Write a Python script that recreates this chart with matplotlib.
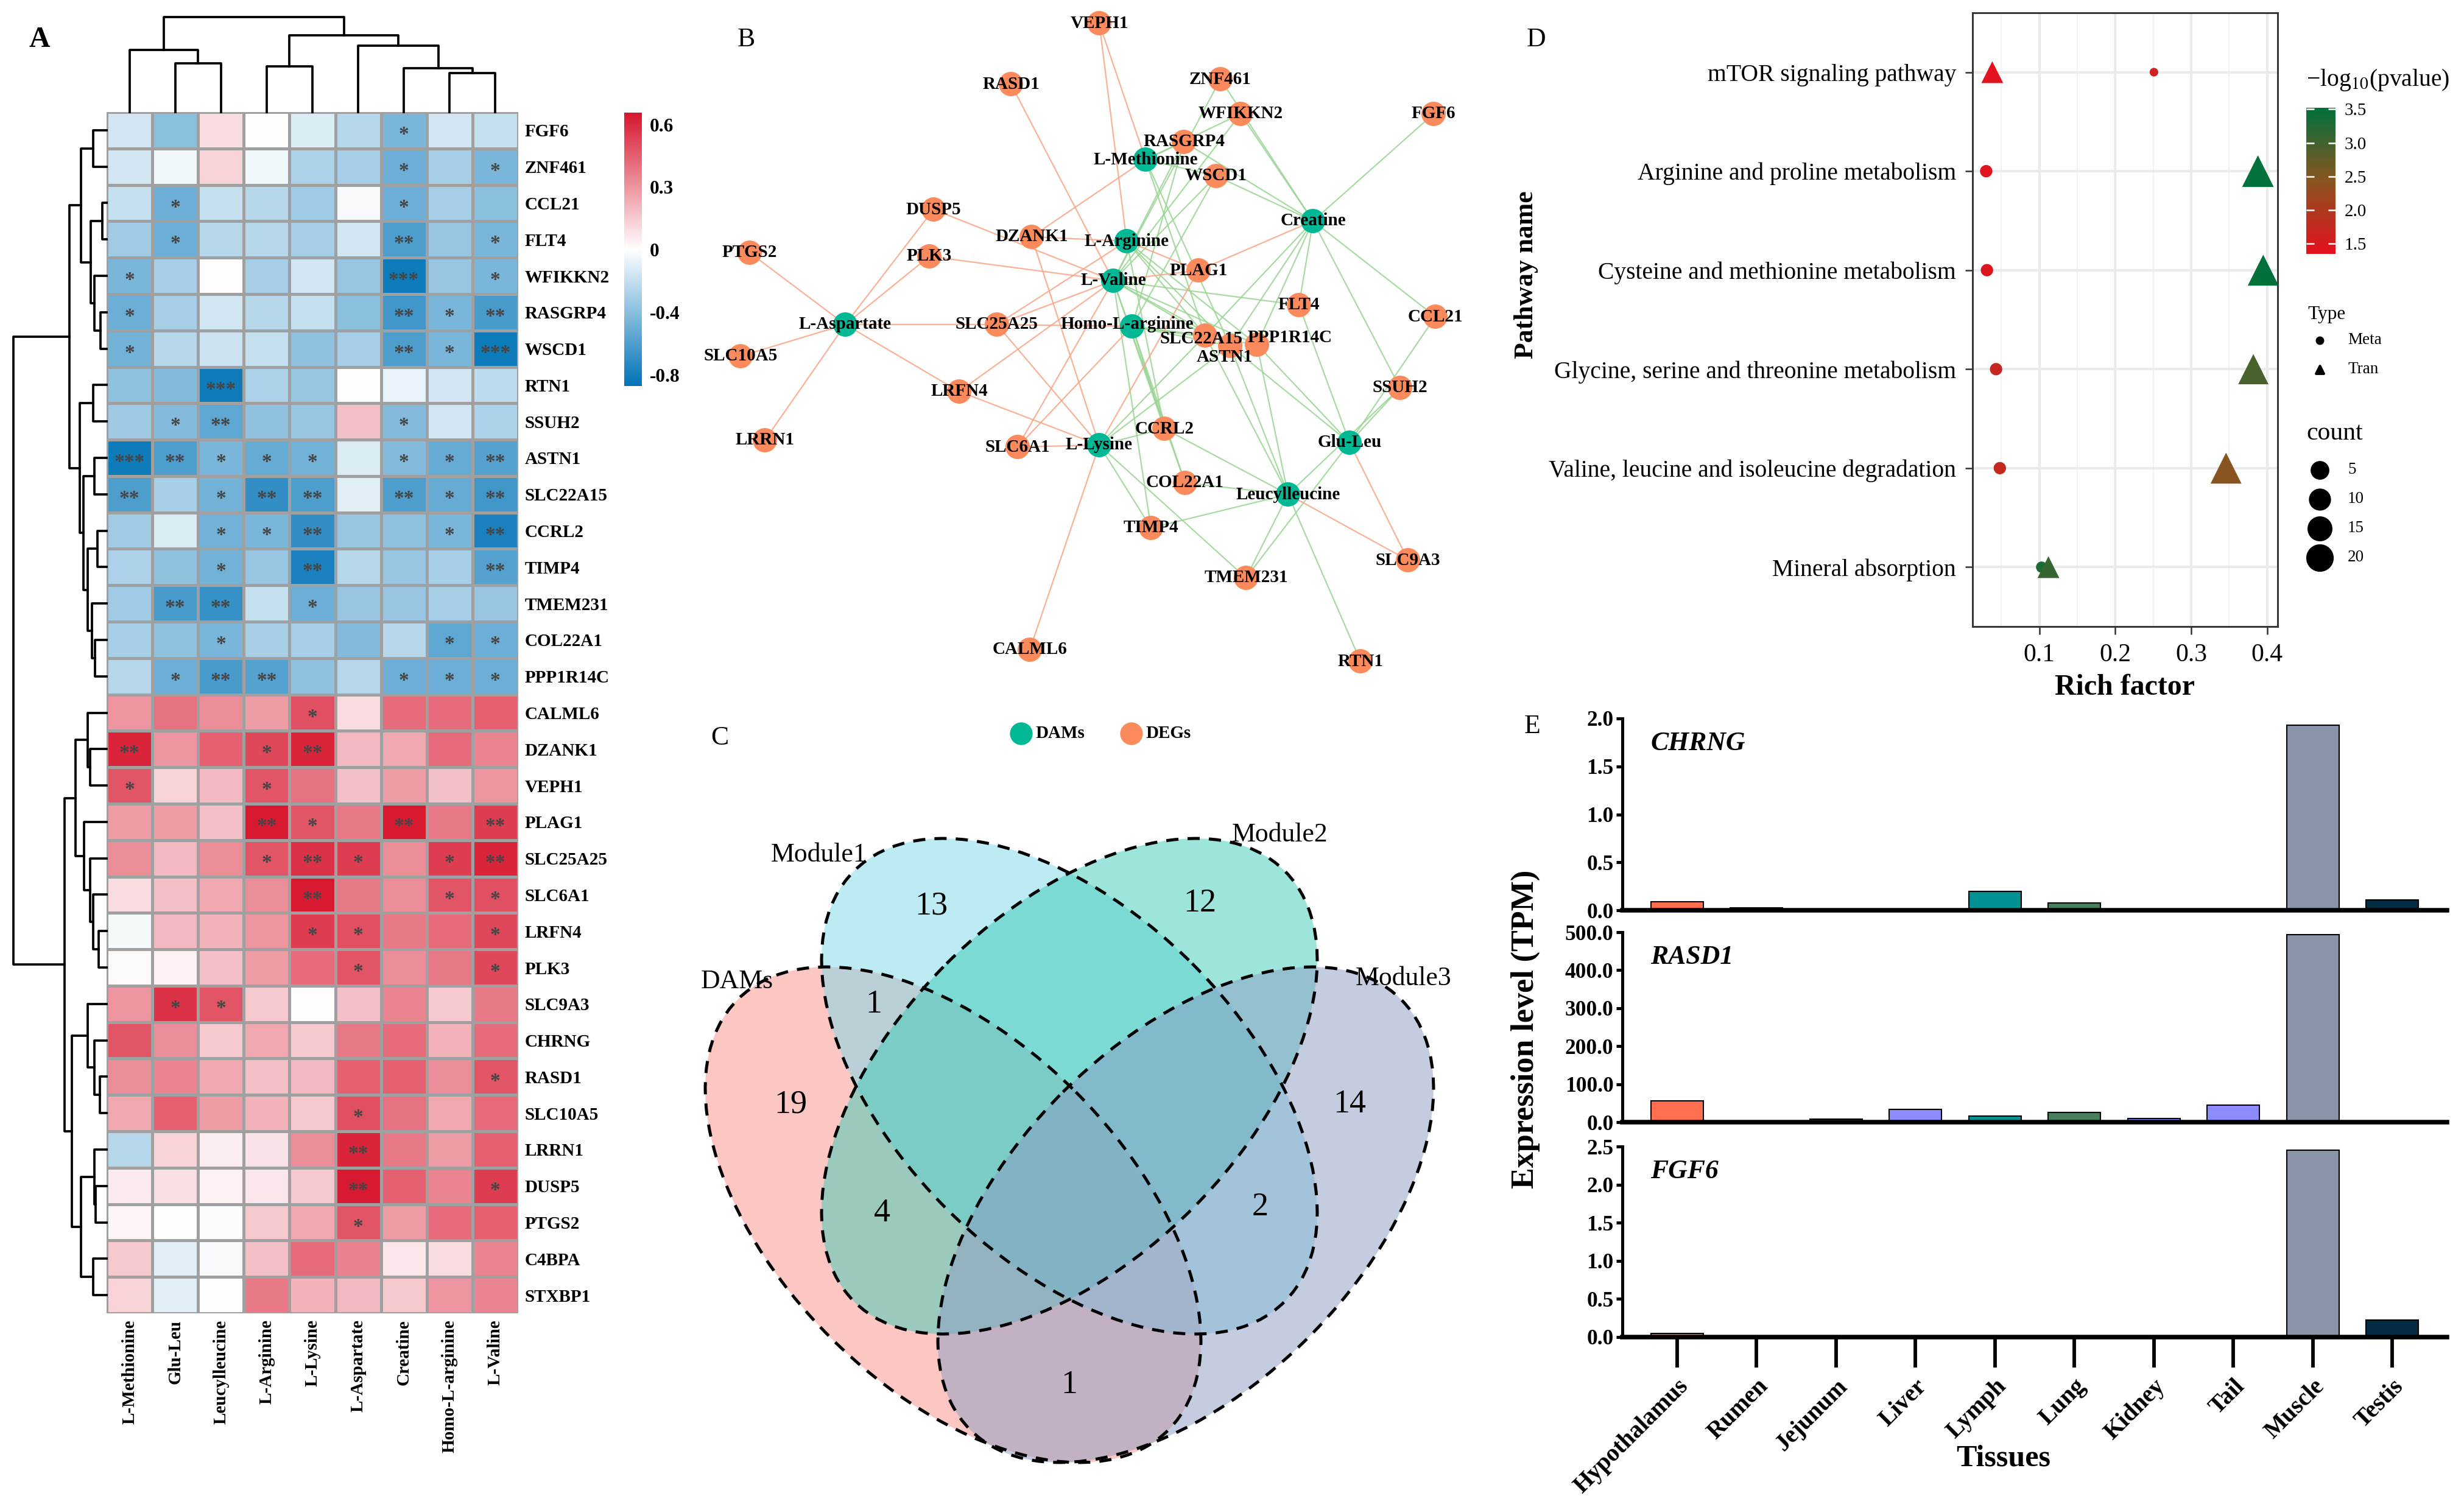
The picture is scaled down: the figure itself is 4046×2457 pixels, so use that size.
import numpy as np
import matplotlib as mpl
import matplotlib.pyplot as plt
from matplotlib.colors import LinearSegmentedColormap, TwoSlopeNorm, Normalize
from matplotlib.patches import Ellipse
from matplotlib.cm import ScalarMappable

W, H = 4046, 2457
DPI = 300
plt.rcParams['font.family'] = ['Liberation Serif', 'DejaVu Serif']
plt.rcParams['mathtext.fontset'] = 'stix'

# ---------------- data: panel A (correlation heatmap) ----------------
genes = ['FGF6', 'ZNF461', 'CCL21', 'FLT4', 'WFIKKN2', 'RASGRP4', 'WSCD1', 'RTN1', 'SSUH2',
         'ASTN1', 'SLC22A15', 'CCRL2', 'TIMP4', 'TMEM231', 'COL22A1', 'PPP1R14C', 'CALML6',
         'DZANK1', 'VEPH1', 'PLAG1', 'SLC25A25', 'SLC6A1', 'LRFN4', 'PLK3', 'SLC9A3', 'CHRNG',
         'RASD1', 'SLC10A5', 'LRRN1', 'DUSP5', 'PTGS2', 'C4BPA', 'STXBP1']
metabolites = ['L-Methionine', 'Glu-Leu', 'Leucylleucine', 'L-Arginine', 'L-Lysine',
               'L-Aspartate', 'Creatine', 'Homo-L-arginine', 'L-Valine']
corr = np.array([
    [-0.15, -0.40, 0.10, 0.00, -0.12, -0.25, -0.45, -0.15, -0.20],
    [-0.15, -0.05, 0.12, -0.05, -0.28, -0.30, -0.50, -0.30, -0.45],
    [-0.20, -0.50, -0.20, -0.25, -0.32, -0.03, -0.50, -0.30, -0.40],
    [-0.32, -0.50, -0.25, -0.25, -0.30, -0.15, -0.60, -0.35, -0.45],
    [-0.45, -0.30, 0.01, -0.30, -0.15, -0.35, -0.82, -0.35, -0.45],
    [-0.50, -0.30, -0.15, -0.25, -0.20, -0.40, -0.65, -0.45, -0.62],
    [-0.48, -0.25, -0.18, -0.20, -0.38, -0.30, -0.60, -0.45, -0.82],
    [-0.38, -0.42, -0.82, -0.28, -0.35, 0.00, -0.08, -0.15, -0.22],
    [-0.33, -0.42, -0.55, -0.38, -0.35, 0.18, -0.42, -0.15, -0.28],
    [-0.82, -0.60, -0.45, -0.52, -0.48, -0.12, -0.42, -0.52, -0.58],
    [-0.60, -0.30, -0.48, -0.70, -0.60, -0.10, -0.60, -0.52, -0.65],
    [-0.32, -0.12, -0.48, -0.45, -0.70, -0.35, -0.38, -0.45, -0.78],
    [-0.28, -0.38, -0.48, -0.35, -0.78, -0.25, -0.35, -0.30, -0.58],
    [-0.32, -0.62, -0.68, -0.20, -0.50, -0.35, -0.35, -0.30, -0.35],
    [-0.30, -0.38, -0.45, -0.30, -0.30, -0.42, -0.25, -0.55, -0.50],
    [-0.25, -0.50, -0.62, -0.58, -0.38, -0.25, -0.50, -0.50, -0.50],
    [0.30, 0.40, 0.32, 0.28, 0.50, 0.10, 0.42, 0.42, 0.45],
    [0.62, 0.30, 0.45, 0.52, 0.62, 0.20, 0.25, 0.42, 0.35],
    [0.48, 0.12, 0.20, 0.48, 0.40, 0.18, 0.28, 0.18, 0.30],
    [0.28, 0.28, 0.18, 0.65, 0.48, 0.38, 0.65, 0.38, 0.55],
    [0.32, 0.20, 0.32, 0.48, 0.58, 0.55, 0.32, 0.55, 0.62],
    [0.10, 0.18, 0.25, 0.32, 0.65, 0.38, 0.32, 0.48, 0.50],
    [-0.04, 0.20, 0.22, 0.30, 0.55, 0.50, 0.38, 0.42, 0.52],
    [0.02, 0.04, 0.18, 0.28, 0.42, 0.48, 0.32, 0.38, 0.52],
    [0.30, 0.58, 0.48, 0.15, 0.01, 0.18, 0.35, 0.15, 0.38],
    [0.48, 0.32, 0.15, 0.25, 0.15, 0.38, 0.42, 0.22, 0.42],
    [0.32, 0.35, 0.25, 0.18, 0.20, 0.45, 0.45, 0.32, 0.48],
    [0.25, 0.45, 0.28, 0.22, 0.15, 0.50, 0.40, 0.25, 0.42],
    [-0.25, 0.12, 0.05, 0.08, 0.32, 0.62, 0.38, 0.28, 0.45],
    [0.06, 0.09, 0.04, 0.07, 0.15, 0.65, 0.45, 0.35, 0.55],
    [0.03, 0.00, -0.02, 0.15, 0.25, 0.48, 0.28, 0.42, 0.45],
    [0.15, -0.10, -0.03, 0.18, 0.42, 0.36, 0.07, 0.10, 0.35],
    [0.12, -0.10, 0.00, 0.38, 0.22, 0.20, 0.15, 0.30, 0.35],
])
# significance level: 1 = *, 2 = **, 3 = ***
sig = np.array([
    [0, 0, 0, 0, 0, 0, 1, 0, 0],
    [0, 0, 0, 0, 0, 0, 1, 0, 1],
    [0, 1, 0, 0, 0, 0, 1, 0, 0],
    [0, 1, 0, 0, 0, 0, 2, 0, 1],
    [1, 0, 0, 0, 0, 0, 3, 0, 1],
    [1, 0, 0, 0, 0, 0, 2, 1, 2],
    [1, 0, 0, 0, 0, 0, 2, 1, 3],
    [0, 0, 3, 0, 0, 0, 0, 0, 0],
    [0, 1, 2, 0, 0, 0, 1, 0, 0],
    [3, 2, 1, 1, 1, 0, 1, 1, 2],
    [2, 0, 1, 2, 2, 0, 2, 1, 2],
    [0, 0, 1, 1, 2, 0, 0, 1, 2],
    [0, 0, 1, 0, 2, 0, 0, 0, 2],
    [0, 2, 2, 0, 1, 0, 0, 0, 0],
    [0, 0, 1, 0, 0, 0, 0, 1, 1],
    [0, 1, 2, 2, 0, 0, 1, 1, 1],
    [0, 0, 0, 0, 1, 0, 0, 0, 0],
    [2, 0, 0, 1, 2, 0, 0, 0, 0],
    [1, 0, 0, 1, 0, 0, 0, 0, 0],
    [0, 0, 0, 2, 1, 0, 2, 0, 2],
    [0, 0, 0, 1, 2, 1, 0, 1, 2],
    [0, 0, 0, 0, 2, 0, 0, 1, 1],
    [0, 0, 0, 0, 1, 1, 0, 0, 1],
    [0, 0, 0, 0, 0, 1, 0, 0, 1],
    [0, 1, 1, 0, 0, 0, 0, 0, 0],
    [0, 0, 0, 0, 0, 0, 0, 0, 0],
    [0, 0, 0, 0, 0, 0, 0, 0, 1],
    [0, 0, 0, 0, 0, 1, 0, 0, 0],
    [0, 0, 0, 0, 0, 2, 0, 0, 0],
    [0, 0, 0, 0, 0, 2, 0, 0, 1],
    [0, 0, 0, 0, 0, 1, 0, 0, 0],
    [0, 0, 0, 0, 0, 0, 0, 0, 0],
    [0, 0, 0, 0, 0, 0, 0, 0, 0],
])
# hierarchical clustering (leaf indices, merge heights)
row_tree = (
    (((0, 1, 30), ((2, 3, 10), (4, (5, 6, 14), 28), 36), 58),
     ((7, 8, 30), ((9, 10, 28), ((11, 12, 21), (13, (14, 15, 26), 33), 43), 53), 61), 85),
    (((16, (17, 18, 38), 43), (19, (20, (21, (22, 23, 18), 30), 38), 51), 71),
     ((24, (25, (26, 27, 16), 28), 43), ((28, (29, 30, 25), 28), (31, 32, 30), 58), 80), 96),
    213)
col_tree = ((0, (1, 2, 100), 128), ((3, 4, 94), (5, (6, (7, 8, 80), 91), 137), 158), 196)

# ---------------- data: panel B (network layout) ----------------
net_nodes = ['VEPH1', 'RASD1', 'ZNF461', 'WFIKKN2', 'FGF6', 'RASGRP4', 'L-Methionine', 'WSCD1',
             'DUSP5', 'Creatine', 'PTGS2', 'DZANK1', 'L-Arginine', 'PLK3', 'PLAG1', 'L-Valine',
             'FLT4', 'CCL21', 'L-Aspartate', 'SLC25A25', 'Homo-L-arginine', 'SLC10A5', 'SLC22A15',
             'ASTN1', 'PPP1R14C', 'SSUH2', 'LRFN4', 'LRRN1', 'CCRL2', 'SLC6A1', 'L-Lysine',
             'Glu-Leu', 'COL22A1', 'Leucylleucine', 'TIMP4', 'TMEM231', 'SLC9A3', 'CALML6', 'RTN1']
net_x = [1805, 1660, 2004, 2037, 2354, 1944, 1881, 1997, 1533, 2156, 1231, 1694, 1850, 1526, 1968,
         1828, 2133, 2357, 1388, 1637, 1859, 1216, 1979, 2020, 2064, 2299, 1575, 1256, 1912, 1671,
         1805, 2216, 1946, 2115, 1890, 2046, 2312, 1691, 2234]
net_y = [38, 138, 130, 187, 187, 233, 262, 289, 344, 363, 415, 389, 396, 421, 444, 461, 501, 520,
         533, 533, 536, 585, 551, 568, 566, 637, 643, 723, 704, 734, 731, 727, 793, 812, 867, 949,
         920, 1067, 1086]
# labels that were nudged off their node in the original layout
label_shift = {'SLC22A15': (-6, 5), 'ASTN1': (-9, 18), 'PPP1R14C': (54, -12),
               'Homo-L-arginine': (-8, -3)}

# ---------------- data: panel C (Venn counts) ----------------
venn_sets = ['DAMs', 'Module1', 'Module2', 'Module3']
venn_counts = {'DAMs': 19, 'Module1': 13, 'Module2': 12, 'Module3': 14,
               'DAMs&Module1': 1, 'DAMs&Module2': 4, 'Module1&Module3': 2, 'DAMs&Module3': 1}

# ---------------- data: panel D (KEGG enrichment) ----------------
pathways = ['mTOR signaling pathway', 'Arginine and proline metabolism',
            'Cysteine and methionine metabolism', 'Glycine, serine and threonine metabolism',
            'Valine, leucine and isoleucine degradation', 'Mineral absorption']
meta_rich = [0.251, 0.030, 0.031, 0.043, 0.048, 0.103]
meta_logp = [1.65, 1.40, 1.45, 1.70, 1.75, 3.30]
meta_count = [2, 5, 5, 5, 5, 4]
tran_rich = [0.038, 0.388, 0.395, 0.382, 0.346, 0.112]
tran_logp = [1.40, 3.50, 3.50, 2.95, 2.45, 3.10]
tran_count = [10, 22, 21, 20, 21, 10]
count_breaks = [5, 10, 15, 20]

# ---------------- data: panel E (tissue expression) ----------------
tissues = ['Hypothalamus', 'Rumen', 'Jejunum', 'Liver', 'Lymph', 'Lung', 'Kidney', 'Tail',
           'Muscle', 'Testis']
tissue_colors = ['#FF6F4F', '#3A3A3A', '#8C8CFF', '#8C8CFF', '#009292', '#4A7F5E', '#8C8CFF',
                 '#8C8CFF', '#8A94A8', '#032B44']
expr_genes = ['CHRNG', 'RASD1', 'FGF6']
chrng_tpm = [0.09, 0.027, 0, 0, 0.20, 0.075, 0, 0, 1.93, 0.107]
rasd1_tpm = [56, 1, 8, 33, 16, 25, 9, 45, 493, 0]
fgf6_tpm = [0.045, 0, 0, 0, 0, 0, 0, 0, 2.45, 0.22]
expr_ymax = [2.0, 500.0, 2.5]
expr_ystep = [0.5, 100.0, 0.5]


def box(x0, y0, x1, y1):
    return [x0 / W, 1 - y1 / H, (x1 - x0) / W, (y1 - y0) / H]


def px_axes(x0, y0, x1, y1):
    # axes whose data units are figure pixels (y downwards)
    ax = fig.add_axes(box(x0, y0, x1, y1))
    ax.set_xlim(x0, x1)
    ax.set_ylim(y1, y0)
    ax.axis('off')
    return ax


def draw_dendro(ax, tree, orient):
    def rec(node):
        if isinstance(node, int):
            return node + 0.5, 0.0
        left, right, h = node
        p1, h1 = rec(left)
        p2, h2 = rec(right)
        if orient == 'top':
            ax.plot([p1, p1, p2, p2], [h1, h, h, h2], color='k', lw=0.9, clip_on=False)
        else:
            ax.plot([h1, h, h, h2], [p1, p1, p2, p2], color='k', lw=0.9, clip_on=False)
        return (p1 + p2) / 2, h
    rec(tree)


fig = plt.figure(figsize=(W / DPI, H / DPI), dpi=DPI)

# ======================= A =======================
cmap_hm = LinearSegmentedColormap.from_list('hm', ['#0073B7', '#FFFFFF', '#D7172F'])
norm_hm = TwoSlopeNorm(vmin=-0.87, vcenter=0, vmax=0.66)
n_r, n_c = corr.shape

ax_hm = fig.add_axes(box(175, 184, 851, 2157))
mesh = ax_hm.pcolormesh(np.arange(n_c + 1), np.arange(n_r + 1), corr, cmap=cmap_hm,
                        norm=norm_hm, edgecolors='#A0A0A0', linewidth=0.8)
ax_hm.set_xlim(0, n_c)
ax_hm.set_ylim(n_r, 0)
for s in ax_hm.spines.values():
    s.set_visible(False)
ax_hm.yaxis.tick_right()
ax_hm.set_yticks(np.arange(n_r) + 0.5)
ax_hm.set_yticklabels(genes, fontsize=7, fontweight='bold')
ax_hm.set_xticks(np.arange(n_c) + 0.5)
ax_hm.set_xticklabels(metabolites, fontsize=7, fontweight='bold', rotation=90)
ax_hm.tick_params(length=0, pad=2.5)
for i in range(n_r):
    for j in range(n_c):
        if sig[i, j]:
            ax_hm.text(j + 0.5, i + 0.5 + 0.27, '*' * sig[i, j], ha='center', va='baseline',
                       fontsize=8, fontweight='bold', color='#454545')

ax_rd = fig.add_axes(box(20, 184, 175, 2157))
ax_rd.set_ylim(n_r, 0)
ax_rd.set_xlim(216, 0)
ax_rd.axis('off')
draw_dendro(ax_rd, row_tree, 'left')

ax_cd = fig.add_axes(box(175, 28, 851, 184))
ax_cd.set_xlim(0, n_c)
ax_cd.set_ylim(0, 196)
ax_cd.axis('off')
draw_dendro(ax_cd, col_tree, 'top')

cax_a = fig.add_axes(box(1025, 185, 1054, 634))
cb_a = fig.colorbar(mesh, cax=cax_a, ticks=[0.6, 0.3, 0, -0.4, -0.8])
cb_a.outline.set_visible(False)
cax_a.tick_params(length=0, pad=3)
cax_a.set_yticklabels(['0.6', '0.3', '0', '-0.4', '-0.8'], fontsize=7.5, fontweight='bold')

# ======================= B =======================
ax_net = px_axes(1150, 0, 2450, 1140)
pos = {n: (x, y) for n, x, y in zip(net_nodes, net_x, net_y)}
for i, g in enumerate(genes):
    for j, m in enumerate(metabolites):
        if sig[i, j] and g in pos and m in pos:
            col = '#F7A688' if corr[i, j] > 0 else '#9BD595'
            ax_net.plot([pos[g][0], pos[m][0]], [pos[g][1], pos[m][1]], color=col, lw=0.55,
                        alpha=0.85, zorder=1)
for n in net_nodes:
    c = '#00B894' if n in metabolites else '#FB8A5C'
    ax_net.scatter(pos[n][0], pos[n][1], s=92, color=c, edgecolors='none', zorder=2)
for n in net_nodes:
    dx, dy = label_shift.get(n, (0, 0))
    ax_net.text(pos[n][0] + dx, pos[n][1] + dy, n, ha='center', va='center', fontsize=7,
                fontweight='bold', zorder=3)

ax_lg = px_axes(1600, 1170, 2100, 1240)
ax_lg.scatter([1677, 1858], [1205, 1205], s=80, color=['#00B894', '#FB8A5C'],
              edgecolors='none')
ax_lg.text(1700, 1205, 'DAMs', fontsize=7, fontweight='bold', va='center')
ax_lg.text(1881, 1205, 'DEGs', fontsize=7, fontweight='bold', va='center')

# ======================= C =======================
ax_v = px_axes(1150, 1240, 2450, 2457)
venn_fill = ['#FA9189', '#7CD8EB', '#3CCBB8', '#8A9CC2']
venn_center = [(1565, 1995), (1756, 1784), (1756, 1784), (1947, 1995)]
venn_angle = [45, 45, -45, -45]
ell_w, ell_h = 1000, 570
for k in range(4):
    ax_v.add_patch(Ellipse(venn_center[k], ell_w, ell_h, angle=venn_angle[k],
                           facecolor=venn_fill[k], alpha=0.5, edgecolor='none'))
for k in range(4):
    ax_v.add_patch(Ellipse(venn_center[k], ell_w, ell_h, angle=venn_angle[k], facecolor='none',
                           edgecolor='black', lw=1.2, linestyle=(0, (4, 3))))
region_xy = {'DAMs': (1298, 1814), 'Module1': (1529, 1488), 'Module2': (1970, 1484),
             'Module3': (2216, 1814), 'DAMs&Module1': (1435, 1650),
             'DAMs&Module2': (1448, 1993), 'Module1&Module3': (2069, 1983),
             'DAMs&Module3': (1756, 2275)}
for key, val in venn_counts.items():
    ax_v.text(*region_xy[key], str(val), ha='center', va='center', fontsize=13)
set_xy = [(1210, 1612), (1345, 1404), (2102, 1371), (2305, 1607)]
for name, xy in zip(venn_sets, set_xy):
    ax_v.text(*xy, name, ha='center', va='center', fontsize=10.5)

# ======================= D =======================
ax_d = fig.add_axes(box(3239, 21, 3740, 1029))
cmap_d = LinearSegmentedColormap.from_list('rg', ['#E3101E', '#8A5520', '#00703B'])
norm_d = Normalize(vmin=1.35, vmax=3.52)
yy = np.arange(1, len(pathways) + 1)


def dot_s(c, tri=False):
    d = np.sqrt(70 * np.asarray(c, float) + 60) * (1.3 if tri else 1.0)
    return (d * 72 / DPI) ** 2


def key_s(c):
    d = np.sqrt(65 * c + 380)
    return (d * 72 / DPI) ** 2


ax_d.scatter(meta_rich, yy, s=dot_s(meta_count), c=meta_logp, cmap=cmap_d, norm=norm_d,
             marker='o', edgecolors='none', zorder=3)
ax_d.scatter(tran_rich, yy, s=dot_s(tran_count, True), c=tran_logp, cmap=cmap_d, norm=norm_d,
             marker='^', edgecolors='none', zorder=4)
ax_d.set_xlim(0.012, 0.414)
ax_d.set_ylim(len(pathways) + 0.6, 0.4)
ax_d.set_xticks([0.1, 0.2, 0.3, 0.4])
ax_d.set_xticks([0.05, 0.15, 0.25, 0.35], minor=True)
ax_d.set_yticks(yy)
ax_d.set_yticklabels(pathways, fontsize=9.5)
ax_d.tick_params(axis='x', labelsize=10)
ax_d.tick_params(which='major', length=3, width=0.6, color='#333333')
ax_d.tick_params(which='minor', length=0)
ax_d.grid(which='major', color='#EBEBEB', lw=1.0, zorder=0)
ax_d.grid(which='minor', axis='x', color='#F2F2F2', lw=0.5, zorder=0)
ax_d.set_axisbelow(True)
for s in ax_d.spines.values():
    s.set_color('#333333')
    s.set_linewidth(0.7)
ax_d.set_xlabel('Rich factor', fontsize=11.5, fontweight='bold', labelpad=3)
fig.text(2506 / W, 1 - 451 / H, 'Pathway name', rotation=90, ha='center', va='center',
         fontsize=10.5, fontweight='bold')

cax_d = fig.add_axes(box(3787, 177, 3835, 417))
cb_d = fig.colorbar(ScalarMappable(norm=norm_d, cmap=cmap_d), cax=cax_d,
                    ticks=[1.5, 2.0, 2.5, 3.0, 3.5])
cb_d.outline.set_visible(False)
cax_d.set_yticklabels(['1.5', '2.0', '2.5', '3.0', '3.5'], fontsize=7)
cax_d.tick_params(left=True, right=True, direction='in', color='white', length=3, width=0.6)
fig.text(3787 / W, 1 - 132 / H, '\u2212log$_{10}$(pvalue)', ha='left', va='center',
         fontsize=9.5)

ax_dl = px_axes(3760, 480, 4046, 960)
ax_dl.text(3789, 517, 'Type', fontsize=7.5, va='center')
ax_dl.scatter([3809], [559], s=dot_s(0.5), color='black', marker='o')
ax_dl.scatter([3809], [607], s=dot_s(0.5, True), color='black', marker='^')
ax_dl.text(3855, 559, 'Meta', fontsize=6.5, va='center')
ax_dl.text(3855, 607, 'Tran', fontsize=6.5, va='center')
ax_dl.text(3787, 712, 'count', fontsize=10, va='center')
for k, c in enumerate(count_breaks):
    yk = 772 + 48 * k
    ax_dl.scatter([3809], [yk], s=key_s(c), color='black', marker='o')
    ax_dl.text(3855, yk, str(c), fontsize=6.5, va='center')

# ======================= E =======================
expr_vals = [chrng_tpm, rasd1_tpm, fgf6_tpm]
e_rows = [(1180, 1495), (1531, 1843), (1883, 2196)]
xb = np.arange(len(tissues))
for k in range(3):
    ax = fig.add_axes(box(2664, e_rows[k][0], 4018, e_rows[k][1]))
    ax.bar(xb, expr_vals[k], width=0.66, color=tissue_colors, edgecolor='black',
           linewidth=0.5, zorder=2)
    ax.set_xlim(-0.69, len(tissues) - 1 + 0.69)
    ax.set_ylim(0, expr_ymax[k])
    ticks = np.arange(0, expr_ymax[k] + 1e-9, expr_ystep[k])
    ax.set_yticks(ticks)
    ax.set_yticklabels(['%.1f' % t for t in ticks], fontsize=8.5, fontweight='bold')
    for s in ['top', 'right']:
        ax.spines[s].set_visible(False)
    ax.spines['left'].set_linewidth(1.2)
    ax.spines['bottom'].set_linewidth(1.8)
    ax.spines['bottom'].set_zorder(3)
    ax.tick_params(axis='y', length=2.5, width=1.2, pad=1)
    ax.text(0.034, 0.87, expr_genes[k], transform=ax.transAxes, fontsize=10.5,
            fontweight='bold', style='italic', va='center')
    if k < 2:
        ax.set_xticks([])
    else:
        ax.set_xticks(xb)
        ax.set_xticklabels(tissues, rotation=45, ha='right', va='top', rotation_mode='anchor',
                           fontsize=9.5, fontweight='bold')
        ax.tick_params(axis='x', length=12, width=1.4, pad=3)
fig.text(3290 / W, 1 - 2396 / H, 'Tissues', ha='center', va='center', fontsize=12,
         fontweight='bold')
fig.text(2505 / W, 1 - 1690 / H, 'Expression level (TPM)', rotation=90, ha='center',
         va='center', fontsize=12.5, fontweight='bold')

# panel letters
fig.text(65 / W, 1 - 65 / H, 'A', fontsize=11.5, fontweight='bold', ha='center', va='center')
for lab, x, y in [('B', 1225, 65), ('C', 1182, 1212), ('D', 2523, 65), ('E', 2516, 1193)]:
    fig.text(x / W, 1 - y / H, lab, fontsize=10.5, ha='center', va='center')

fig.savefig('out.png', dpi=DPI)
